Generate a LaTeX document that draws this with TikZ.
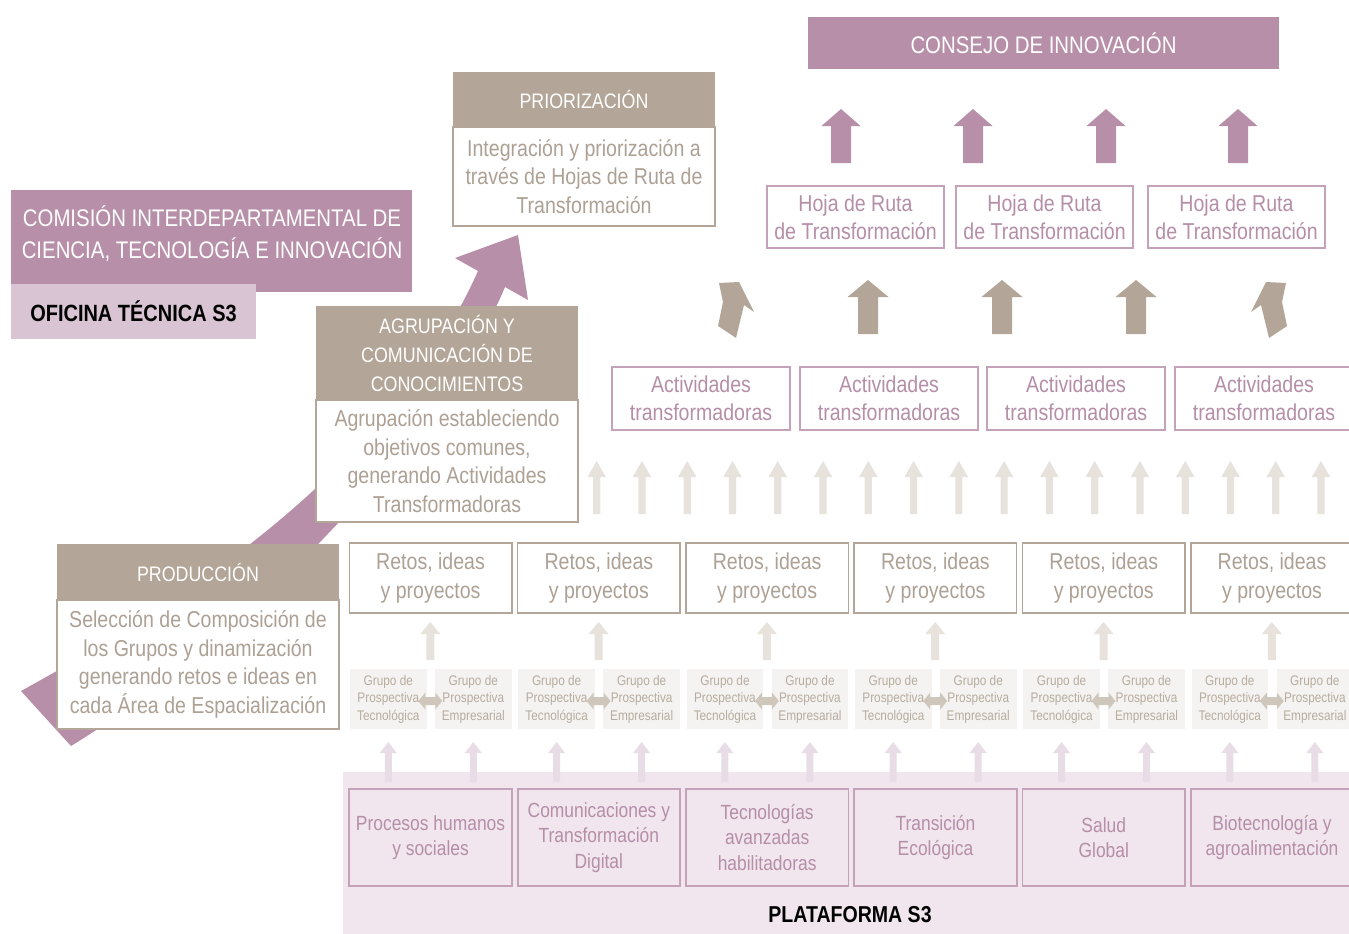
\documentclass[tikz,border=0pt]{standalone}
\usepackage{fontspec}
\setmainfont[FakeStretch=0.85]{Liberation Sans}
\usetikzlibrary{positioning}
\definecolor{mauve}{HTML}{B78FA8}
\definecolor{mauvesoft}{HTML}{D8C4D2}
\definecolor{mauveink}{HTML}{B58EA8}
\definecolor{mauveline}{HTML}{C4A2B9}
\definecolor{taupe}{HTML}{B3A597}
\definecolor{taupeink}{HTML}{ADA094}
\definecolor{taupepale}{HTML}{E7E2DB}
\definecolor{taupemid}{HTML}{CFC7BC}
\definecolor{grupofill}{HTML}{F5F3F1}
\definecolor{grupoink}{HTML}{B7AC9F}
\definecolor{platbg}{HTML}{F1E6EE}
\definecolor{platarrow}{HTML}{E8DCE6}

% block arrow pointing up: colour, x, y tip, y base, head half width, head length, shaft half width
\newcommand\BlockUp[7]{%
  \fill[#1] (#2,#3) -- ++(#5,#6) -- ({#2+#7},{#3+#6}) -- ({#2+#7},#4) -- ({#2-#7},#4)
    -- ({#2-#7},{#3+#6}) -- ({#2-#5},{#3+#6}) -- cycle;}
% short double arrow between the two groups
\newcommand\BlockLR[2]{%
  \fill[taupemid] ({#1-12},#2) -- ({#1-5},{#2-8.5}) -- ({#1-5},{#2-4}) -- ({#1+5},{#2-4})
    -- ({#1+5},{#2-8.5}) -- ({#1+12},#2) -- ({#1+5},{#2+8.5}) -- ({#1+5},{#2+4})
    -- ({#1-5},{#2+4}) -- ({#1-5},{#2+8.5}) -- cycle;}

\begin{document}
\begin{tikzpicture}[x=1pt, y=-1pt,
  every node/.style={inner sep=0pt, outer sep=0pt, align=center},
  mauvebar/.style={fill=mauve, text=white, font=\fontsize{24}{32}\selectfont},
  hdr/.style={fill=taupe, text=white, font=\fontsize{21}{29}\selectfont, anchor=north west},
  desc/.style={draw=taupe, line width=1.5pt, fill=white, text=taupeink, font=\fontsize{23}{28.5}\selectfont},
  hoja/.style={draw=mauveline, line width=1.2pt, fill=white, text=mauveink,
    font=\fontsize{23}{28}\selectfont, minimum width=177pt, minimum height=62pt, anchor=north west},
  activ/.style={hoja, minimum width=178pt, minimum height=63pt},
  retos/.style={draw=taupe, line width=1.5pt, fill=white, text=taupeink,
    font=\fontsize{23}{29}\selectfont, minimum width=162.5pt, minimum height=70pt, anchor=north west},
  grupo/.style={fill=grupofill, text=grupoink, font=\fontsize{13.9}{17.5}\selectfont,
    minimum width=76.7pt, minimum height=60pt, anchor=north west},
  area/.style={draw=mauveline, line width=1.8pt, text=mauveink, font=\fontsize{20.5}{25.5}\selectfont,
    minimum width=162.5pt, minimum height=97pt, anchor=north west}
]
\useasboundingbox (0,0) rectangle (1349,934);
\clip (0,0) rectangle (1349,934);

% big rising arrow behind the three stages
\fill[mauve] (21,691) .. controls (140,625) and (380,490) .. (478,271) -- (455,258) -- (518,235)
  -- (528,300) -- (505,287) .. controls (450,420) and (260,630) .. (71,746) -- cycle;

% --- top: consejo and hojas de ruta ---
\node[mauvebar, minimum width=471pt, minimum height=52pt, anchor=north west] (consejo) at (808,17) {CONSEJO DE INNOVACIÓN};
\foreach \x in {841,973,1106,1238}
  \BlockUp{mauve}{\x}{109}{163}{19.5}{17}{10};
\foreach \x/\n in {767/1,956/2,1148/3}
  \node[hoja] (hoja\n) at (\x,186) {Hoja de Ruta\\de Transformación};

% taupe arrows up to the hojas
\foreach \x in {868,1002,1136}
  \BlockUp{taupe}{\x}{280}{334}{20.5}{17}{10};
\fill[taupe] (719,283) -- (739,282) -- (754,312) -- (744,305) -- (736,338) -- (718,326) -- (723,302) -- cycle;
\begin{scope}[xshift=2005pt, xscale=-1]
  \fill[taupe] (719,283) -- (739,282) -- (754,312) -- (744,305) -- (736,338) -- (718,326) -- (723,302) -- cycle;
\end{scope}

% actividades
\foreach \x/\n in {612/1,800/2,987/3,1175/4}
  \node[activ] (activ\n) at (\x,367) {Actividades\\transformadoras};
\foreach \i in {0,...,16}
  \BlockUp{taupepale}{596.7+45.27*\i}{461}{514}{9.2}{16}{3.6};

% --- left: comision and oficina ---
\node[mauvebar, minimum width=400.5pt, minimum height=101.5pt, anchor=north west] (comision) at (11,190) {};
\node[text=white, font=\fontsize{24}{32}\selectfont] (comisiontxt) at (212,234) {COMISIÓN INTERDEPARTAMENTAL DE\\CIENCIA, TECNOLOGÍA E INNOVACIÓN};
\node[fill=mauvesoft, font=\fontsize{23.5}{28}\bfseries\selectfont, minimum width=245pt, minimum height=55pt, anchor=north west] (oficina) at (11,284) {OFICINA TÉCNICA S3};

% --- the three stages ---
\node[hdr, minimum width=262pt, minimum height=55pt] (prioh) at (453,72) {PRIORIZACIÓN};
\node[desc, minimum width=262pt, minimum height=99pt, below=0pt of prioh] (priob) {Integración y priorización a\\través de Hojas de Ruta de\\Transformación};

\node[hdr, minimum width=262pt, minimum height=94pt] (agruh) at (316,306) {AGRUPACIÓN Y\\COMUNICACIÓN DE\\CONOCIMIENTOS};
\node[desc, minimum width=262pt, minimum height=122pt, below=0pt of agruh] (agrub) {Agrupación estableciendo\\objetivos comunes,\\generando Actividades\\Transformadoras};

\node[hdr, minimum width=282pt, minimum height=56pt] (prodh) at (57,544) {PRODUCCIÓN};
\node[desc, minimum width=282pt, minimum height=129pt, below=0pt of prodh] (prodb) {Selección de Composición de\\los Grupos y dinamización\\generando retos e ideas en\\cada Área de Espacialización};

% --- plataforma ---
\fill[platbg] (343,772) rectangle (1349,934);
\node[font=\fontsize{23}{28}\bfseries\selectfont] (plataforma) at (850,915) {PLATAFORMA S3};

\foreach \i/\txt in {0/{Procesos humanos\\y sociales},1/{Comunicaciones y\\Transformación\\Digital},
    2/{Tecnologías\\avanzadas\\habilitadoras},3/{Transición\\Ecológica},4/{Salud\\Global},
    5/{Biotecnología y\\agroalimentación}} {
  \pgfmathsetmacro\cx{349.3+168.3*\i}
  \node[retos] (retos\i) at (\cx,543) {Retos, ideas\\y proyectos};
  \BlockUp{taupepale}{\cx+81}{622}{660}{10}{12}{4};
  \node[grupo] (tec\i) at (\cx+0.7,669) {Grupo de\\Prospectiva\\Tecnológica};
  \node[grupo] (emp\i) at (\cx+85.7,669) {Grupo de\\Prospectiva\\Empresarial};
  \BlockLR{\cx+81}{701};
  \BlockUp{platarrow}{\cx+39}{742}{782}{8.5}{11}{3.5};
  \BlockUp{platarrow}{\cx+124}{742}{782}{8.5}{11}{3.5};
  \node[area] (area\i) at (\cx,789) {\txt};
}

\end{tikzpicture}
\end{document}
